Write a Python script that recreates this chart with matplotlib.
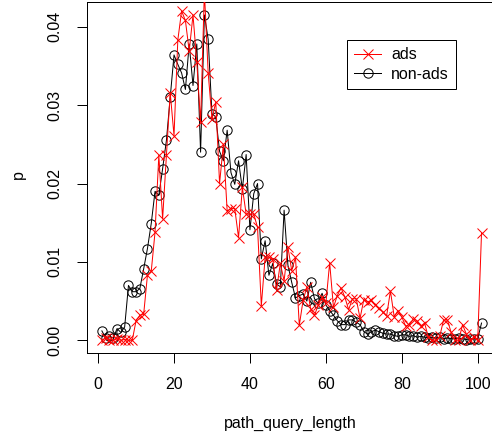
import numpy as np
import matplotlib.pyplot as plt

plt.rcParams['font.family'] = ['Liberation Sans', 'DejaVu Sans']

# path_query_length = 1..101
length = np.arange(1, 102)

# share of non-ads requests per path/query length
non_ads = [0.0012, 0.0003, 0.0005, 0.0003, 0.0015, 0.0010, 0.0017, 0.0070, 0.0062, 0.0062,
           0.0066, 0.0091, 0.0117, 0.0149, 0.0190, 0.0185, 0.0219, 0.0255, 0.0310, 0.0364,
           0.0352, 0.0341, 0.0320, 0.0378, 0.0325, 0.0378, 0.0240, 0.0415, 0.0384, 0.0289,
           0.0285, 0.0241, 0.0229, 0.0268, 0.0214, 0.0199, 0.0229, 0.0193, 0.0237, 0.0141,
           0.0187, 0.0200, 0.0104, 0.0127, 0.0083, 0.0098, 0.0072, 0.0068, 0.0166, 0.0096,
           0.0074, 0.0054, 0.0057, 0.0059, 0.0050, 0.0074, 0.0053, 0.0047, 0.0060, 0.0045,
           0.0038, 0.0032, 0.0025, 0.0020, 0.0020, 0.0026, 0.0026, 0.0023, 0.0020, 0.0011,
           0.0008, 0.0011, 0.0013, 0.0011, 0.0009, 0.0008, 0.0008, 0.0006, 0.0005, 0.0007,
           0.0007, 0.0005, 0.0006, 0.0004, 0.0005, 0.0004, 0.0003, 0.0004, 0.0003, 0.0004,
           0.0002, 0.0003, 0.0002, 0.0002, 0.0003, 0.0002, 0.0001, 0.0002, 0.0002, 0.0002,
           0.0022]

# share of ads requests per path/query length
ads = [0.0000, 0.0003, 0.0001, 0.0000, 0.0002, 0.0000, 0.0001, 0.0000, 0.0000, 0.0025,
       0.0032, 0.0033, 0.0083, 0.0088, 0.0138, 0.0236, 0.0155, 0.0236, 0.0316, 0.0261,
       0.0383, 0.0420, 0.0408, 0.0369, 0.0415, 0.0355, 0.0278, 0.0445, 0.0341, 0.0282,
       0.0304, 0.0200, 0.0250, 0.0165, 0.0168, 0.0168, 0.0131, 0.0195, 0.0161, 0.0161,
       0.0161, 0.0144, 0.0044, 0.0106, 0.0106, 0.0104, 0.0064, 0.0098, 0.0076, 0.0119,
       0.0089, 0.0106, 0.0019, 0.0051, 0.0068, 0.0040, 0.0032, 0.0045, 0.0055, 0.0047,
       0.0099, 0.0042, 0.0057, 0.0067, 0.0055, 0.0039, 0.0053, 0.0053, 0.0028, 0.0052,
       0.0049, 0.0051, 0.0045, 0.0041, 0.0036, 0.0031, 0.0063, 0.0030, 0.0038, 0.0030,
       0.0018, 0.0020, 0.0027, 0.0025, 0.0018, 0.0022, 0.0004, 0.0000, 0.0000, 0.0005,
       0.0026, 0.0026, 0.0010, 0.0000, 0.0000, 0.0020, 0.0008, 0.0000, 0.0004, 0.0000,
       0.0137]

xticks = [0, 20, 40, 60, 80, 100]
yticks = [0.00, 0.01, 0.02, 0.03, 0.04]

W, H, dpi = 492, 435, 96
fig = plt.figure(figsize=(W / dpi, H / dpi), dpi=dpi)
ax = fig.add_axes([86.7 / W, (H - 352.5) / H, (496.7 - 86.7) / W, (352.5 - 2) / H])

ax.plot(length, non_ads, color='black', lw=0.75, marker='o', ms=7,
        mfc='none', mec='black', mew=0.75, label='non-ads', zorder=2)
ax.plot(length, ads, color='red', lw=0.75, marker='x', ms=7,
        mec='red', mew=0.75, label='ads', zorder=3)

# R-style 4% padding, y range set by the first series
xr = length.max() - length.min()
ax.set_xlim(length.min() - 0.04 * xr, length.max() + 0.04 * xr)
yr = max(non_ads) - min(non_ads)
ax.set_ylim(min(non_ads) - 0.04 * yr, max(non_ads) + 0.04 * yr)

ax.set_xticks(xticks)
ax.set_yticks(yticks)
ax.set_yticklabels(['%.2f' % v for v in yticks], rotation=90, va='center')
ax.tick_params(direction='out', length=7.5, width=0.75, labelsize=12, pad=11)
for s in ax.spines.values():
    s.set_linewidth(0.75)

fig.text(290 / W, 1 - 423 / H, 'path_query_length', ha='center', va='center', fontsize=12)
fig.text(18 / W, 1 - 175 / H, 'p', ha='center', va='center', fontsize=12, rotation=90)

handles, labels = ax.get_legend_handles_labels()
leg = ax.legend(handles[::-1], labels[::-1], loc='upper left',
                bbox_to_anchor=(347 / W, 1 - 40 / H), bbox_transform=fig.transFigure,
                borderaxespad=0, fancybox=False, framealpha=1, edgecolor='black',
                fontsize=12, handlelength=1.7, handletextpad=0.6, borderpad=0.45,
                labelspacing=0.3)
leg.get_frame().set_linewidth(0.75)

fig.savefig('out.png', dpi=dpi)
